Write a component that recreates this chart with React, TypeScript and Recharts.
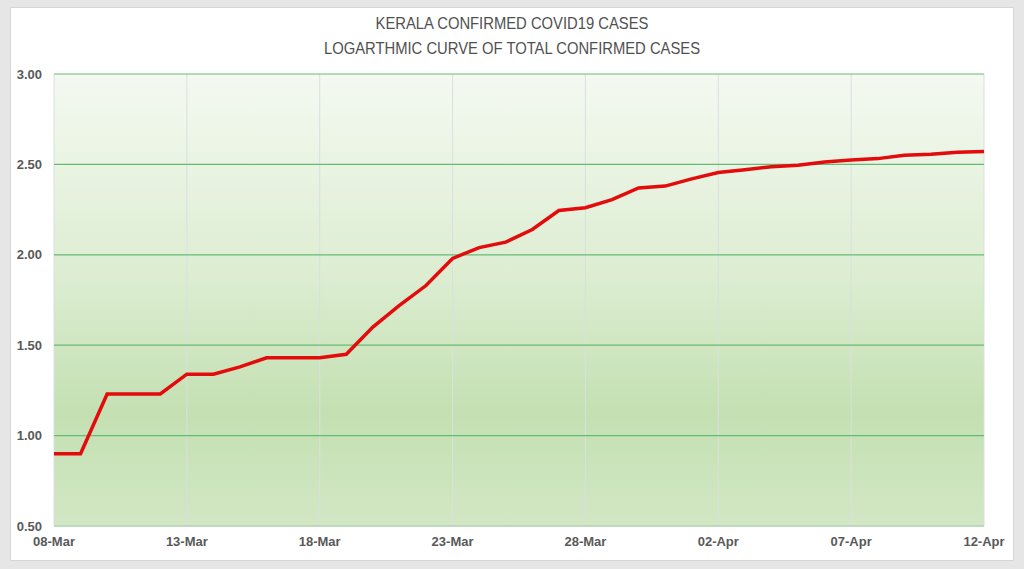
import { LineChart, Line, XAxis, YAxis, CartesianGrid } from 'recharts'

// 08-Mar .. 12-Apr, one point per day
const dates = [
  '08-Mar', '09-Mar', '10-Mar', '11-Mar', '12-Mar', '13-Mar', '14-Mar', '15-Mar', '16-Mar',
  '17-Mar', '18-Mar', '19-Mar', '20-Mar', '21-Mar', '22-Mar', '23-Mar', '24-Mar', '25-Mar',
  '26-Mar', '27-Mar', '28-Mar', '29-Mar', '30-Mar', '31-Mar', '01-Apr', '02-Apr', '03-Apr',
  '04-Apr', '05-Apr', '06-Apr', '07-Apr', '08-Apr', '09-Apr', '10-Apr', '11-Apr', '12-Apr',
]

// log10 of total confirmed cases
const logCases = [
  0.9, 0.9, 1.23, 1.23, 1.23, 1.34, 1.34, 1.38, 1.43,
  1.43, 1.43, 1.45, 1.6, 1.72, 1.83, 1.98, 2.04, 2.07,
  2.14, 2.245, 2.26, 2.305, 2.37, 2.38, 2.42, 2.455, 2.47,
  2.487, 2.495, 2.513, 2.524, 2.532, 2.551, 2.556, 2.567, 2.572,
]

const yTicks = [0.5, 1, 1.5, 2, 2.5, 3]

const titleLines = ['KERALA CONFIRMED COVID19 CASES', 'LOGARTHMIC CURVE OF TOTAL CONFIRMED CASES']

const data = dates.map((d, i) => ({ date: d, value: logCases[i] }))

const tickStyle = {
  fontSize: 13,
  fontWeight: 700,
  fill: '#595959',
  fontFamily: '"Liberation Sans", Arial, sans-serif',
}

export default function App() {
  return (
    <div
      style={{
        position: 'absolute',
        left: 0,
        top: 0,
        width: 1024,
        height: 569,
        background: '#e6e6e6',
        overflow: 'hidden',
      }}
    >
      <div
        style={{
          position: 'absolute',
          left: 10,
          top: 7,
          width: 1002,
          height: 552,
          background: '#fff',
          border: '1px solid #d6d6d6',
        }}
      />
      <div
        style={{
          position: 'absolute',
          left: 0,
          top: 11,
          width: 1024,
          textAlign: 'center',
          color: '#505050',
          fontFamily: '"Liberation Sans", Arial, sans-serif',
          fontSize: 17,
          lineHeight: '25px',
          transform: 'scaleX(0.87)',
          transformOrigin: '512px 0',
        }}
      >
        {titleLines.map((t) => (
          <div key={t}>{t}</div>
        ))}
      </div>
      <div style={{ position: 'absolute', left: 0, top: 0 }}>
        <LineChart
          width={1024}
          height={569}
          data={data}
          margin={{ top: 74, right: 40, bottom: 13, left: 0 }}
        >
          <defs>
            <linearGradient id="plotBg" x1="0" y1="0" x2="0" y2="1">
              <stop offset="0%" stopColor="#f4f9f1" />
              <stop offset="45%" stopColor="#dcedd1" />
              <stop offset="75%" stopColor="#c4e0b2" />
              <stop offset="100%" stopColor="#d2e7c4" />
            </linearGradient>
          </defs>
          <CartesianGrid
            horizontal={false}
            stroke="#d8e0e0"
            fill="url(#plotBg)"
            fillOpacity={1}
          />
          <CartesianGrid vertical={false} stroke="#66bb73" strokeWidth={1.2} />
          <XAxis
            dataKey="date"
            interval={4}
            tick={tickStyle}
            tickLine={false}
            tickSize={0}
            tickMargin={11}
            axisLine={{ stroke: '#d6dcd6' }}
            height={30}
          />
          <YAxis
            domain={[0.5, 3]}
            ticks={yTicks}
            tickFormatter={(v: number) => v.toFixed(2)}
            tick={tickStyle}
            tickLine={false}
            tickSize={0}
            tickMargin={12}
            axisLine={false}
            width={54}
          />
          <Line
            type="linear"
            dataKey="value"
            stroke="#e30b0b"
            strokeWidth={3.5}
            dot={false}
            isAnimationActive={false}
          />
        </LineChart>
      </div>
    </div>
  )
}
